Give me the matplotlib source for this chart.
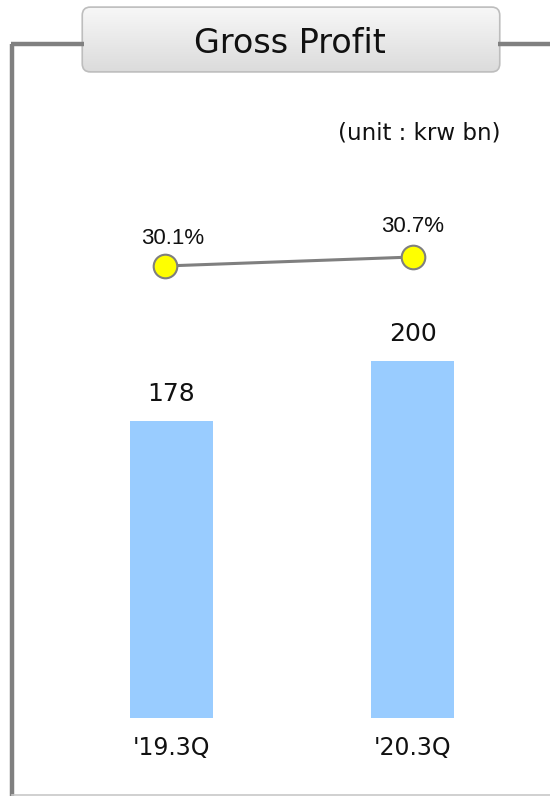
import matplotlib
matplotlib.use("Agg")
import matplotlib.pyplot as plt
import numpy as np
from matplotlib.patches import FancyBboxPatch
from matplotlib.lines import Line2D

categories = ["'19.3Q", "'20.3Q"]
gross_profit = [178, 200]
margin_pct = [30.1, 30.7]
margin_labels = ["30.1%", "30.7%"]
title = "Gross Profit"
unit_text = "(unit : krw bn)"

W, H = 550, 796
fig = plt.figure(figsize=(W / 100, H / 100), dpi=100)
fig.patch.set_facecolor("white")

def fx(x):
    return x / W

def fy(y):
    return 1 - y / H

# frame lines
gray = "#808080"
fig.add_artist(Line2D([fx(12), fx(12)], [fy(44), fy(796)], color=gray, lw=3.2, solid_capstyle="butt"))
fig.add_artist(Line2D([fx(10.8), fx(84)], [fy(44), fy(44)], color=gray, lw=3.2, solid_capstyle="butt"))
fig.add_artist(Line2D([fx(498), fx(550)], [fy(44), fy(44)], color=gray, lw=3.2, solid_capstyle="butt"))
fig.add_artist(Line2D([fx(12), fx(550)], [fy(794.5), fy(794.5)], color="#C8C8C8", lw=1.2))

# title box with gradient
bx0, by0, bx1, by1 = 82, 8, 500, 71
tax = fig.add_axes([fx(bx0) - 0.005, fy(by1) - 0.005, fx(bx1 - bx0) + 0.01, (by1 - by0) / H + 0.01])
tax.set_xlim(bx0 - 3, bx1 + 3)
tax.set_ylim(by1 + 3, by0 - 3)
tax.axis("off")
grad = np.linspace(0, 1, 100).reshape(-1, 1)
cols = np.array([0.97, 0.97, 0.97]) * (1 - grad[..., None]) + np.array([0.86, 0.86, 0.86]) * grad[..., None]
cols = cols.reshape(100, 1, 3)
patch = FancyBboxPatch((bx0, by0), bx1 - bx0, by1 - by0,
                       boxstyle="round,pad=0,rounding_size=8",
                       facecolor="none", edgecolor="#BDBDBD", lw=1.2, zorder=3)
tax.add_patch(patch)
im = tax.imshow(cols, extent=[bx0, bx1, by1, by0], aspect="auto", zorder=1)
im.set_clip_path(patch)
tax.text((bx0 + bx1) / 2 - 1, 43, title, ha="center", va="center",
         fontsize=24, family="DejaVu Sans", color="#111111", zorder=4)

# unit text
fig.text(fx(501), fy(133), unit_text, ha="right", va="center", fontsize=16.5,
         family="DejaVu Sans", color="#111111")

# bar axes
ax_bottom_px, ax_top_px = 718, 100
pos = [0, fy(ax_bottom_px), 1, (ax_bottom_px - ax_top_px) / H]
ax = fig.add_axes(pos)
x = np.arange(len(categories))
px_per_unit = 241.0
ax.set_xlim(-171.5 / px_per_unit, (550 - 171.5) / px_per_unit)
ax.set_ylim(69, 69 + (ax_bottom_px - ax_top_px) / 2.727)
ax.bar(x, gross_profit, width=83 / px_per_unit, color="#99CCFF", zorder=2)
for xi, v in zip(x, gross_profit):
    ax.annotate(f"{v}", xy=(xi, v), xytext=(0, 27), textcoords="offset pixels",
                ha="center", va="center", fontsize=18, family="DejaVu Sans", color="#111111")
for xi, lab in zip(x, categories):
    ax.annotate(lab, xy=(xi, 69), xytext=(0, -30), textcoords="offset pixels",
                ha="center", va="center", fontsize=17, family="DejaVu Sans", color="#111111")
ax.axis("off")

# line axes
lax = fig.add_axes(pos)
lpx = 248.0
lax.set_xlim(-165 / lpx, (550 - 165) / lpx)
ppp = 15.0
lax.set_ylim(30.1 - (ax_bottom_px - 266) / ppp, 30.1 + (266 - ax_top_px) / ppp)
lax.plot(x, margin_pct, color="#7F7F7F", lw=2.2, marker="o", markersize=17,
         markerfacecolor="#FFFF00", markeredgecolor="#7F7F7F", markeredgewidth=1.5, zorder=3)
offsets = [(8, 27), (0, 31)]
for xi, v, lab, off in zip(x, margin_pct, margin_labels, offsets):
    lax.annotate(lab, xy=(xi, v), xytext=off, textcoords="offset pixels",
                 ha="center", va="center", fontsize=16, family="Liberation Sans", color="#111111")
lax.axis("off")

fig.savefig("out.png", dpi=100)
